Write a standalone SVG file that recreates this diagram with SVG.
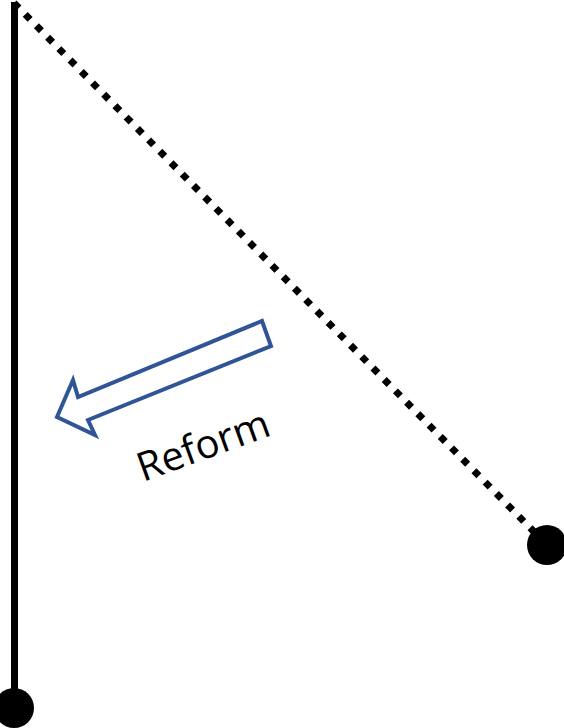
<svg xmlns="http://www.w3.org/2000/svg" width="564" height="728" viewBox="0 0 564 728">
<style>
.solid{stroke:#000;stroke-width:7;fill:none}
.dotted{stroke:#000;stroke-width:7;fill:none;stroke-dasharray:7 9}
.end{fill:#000}
.arrow{fill:#fff;stroke:#2F5597;stroke-width:4;stroke-linejoin:miter}
.lbl{font-family:"Open Sans","Noto Sans",sans-serif;font-size:40px;fill:#000}
</style>
<rect width="564" height="728" fill="#fff"/>
<g id="connectors">
<line class="solid" x1="14.5" y1="2" x2="14.5" y2="708"/>
<line class="dotted" x1="14" y1="3" x2="547" y2="545"/>
</g>
<g id="node-bottom"><circle class="end" cx="14" cy="708" r="20"/></g>
<g id="node-right"><circle class="end" cx="547" cy="545" r="20"/></g>
<g id="reform-arrow">
<polygon class="arrow" points="262,321 271,346 88,420 95,435 57,417 73,380 78,397"/>
<text class="lbl" transform="translate(143,482) rotate(-20)">Reform</text>
</g>
</svg>
